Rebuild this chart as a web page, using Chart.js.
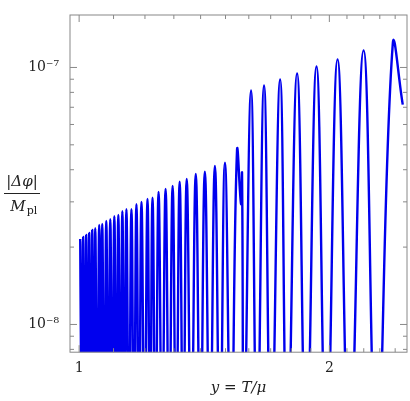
<!DOCTYPE html>
<html>
<head>
<meta charset="utf-8">
<script src="https://cdn.jsdelivr.net/npm/chart.js@4"></script>
<style>
  html, body { margin: 0; padding: 0; background: #fff; }
  #wrap { width: 410px; height: 401px; }
</style>
</head>
<body>
<div id="wrap"><canvas id="c"></canvas></div>
<script>
// peaks of |dphi| (x = T/mu, y = |dphi|/Mpl)
const peakX = [1.003, 1.0112, 1.0197, 1.0282, 1.0369, 1.0456, 1.0572, 1.0661, 1.0781, 1.0901,
  1.1024, 1.1147, 1.1272, 1.1399, 1.1559, 1.1720, 1.1885, 1.2085, 1.2254, 1.2461,
  1.2706, 1.2956, 1.3211, 1.3472, 1.3814, 1.4166, 1.4566, 1.4977, 1.5486];
const peakY = [2.15e-8, 2.19e-8, 2.23e-8, 2.27e-8, 2.33e-8, 2.37e-8, 2.44e-8, 2.46e-8, 2.53e-8, 2.57e-8,
  2.64e-8, 2.67e-8, 2.76e-8, 2.81e-8, 2.81e-8, 2.94e-8, 3.00e-8, 3.08e-8, 3.11e-8, 3.28e-8,
  3.37e-8, 3.46e-8, 3.59e-8, 3.68e-8, 3.85e-8, 3.93e-8, 4.14e-8, 4.26e-8, 4.74e-8];
// zero crossings between the early peaks
const troughX = [1.0071, 1.0155, 1.0240, 1.0326, 1.0413, 1.0514, 1.0617, 1.0721, 1.0841, 1.0963,
  1.1086, 1.1210, 1.1336, 1.1479, 1.1640, 1.1803, 1.1985, 1.2170, 1.2358, 1.2584,
  1.2831, 1.3084, 1.3342, 1.3643, 1.3990, 1.4366, 1.4772, 1.5232];
// glitch near y ~ 1.57
const glitchX = [1.5660, 1.5703];
const glitchY = [2.94e-8, 3.85e-8];
// after the jump
const latePeakX = [1.610, 1.669, 1.745, 1.829, 1.930, 2.046, 2.199, 2.384];
const latePeakY = [8.13e-8, 8.51e-8, 8.98e-8, 9.47e-8, 1.009e-7, 1.075e-7, 1.165e-7, 1.230e-7];
const lateTroughX = [1.579, 1.637, 1.702, 1.780, 1.876, 1.984, 2.115, 2.280];
const endPoint = [2.451, 7.17e-8];
const DIP = 3e-9; // value at the zeros (below the visible range)

const pts = [];
for (let i = 0; i < peakX.length; i++) {
  pts.push({ x: peakX[i], y: peakY[i] });
  if (i < troughX.length) pts.push({ x: troughX[i], y: DIP });
}
for (let i = 0; i < glitchX.length; i++) pts.push({ x: glitchX[i], y: glitchY[i] });
for (let i = 0; i < latePeakX.length; i++) {
  pts.push({ x: lateTroughX[i], y: DIP });
  pts.push({ x: latePeakX[i], y: latePeakY[i] });
}
pts.push({ x: endPoint[0], y: endPoint[1] });

const xTicks = [1, 1.1, 1.2, 1.3, 1.4, 1.5, 1.6, 1.7, 1.8, 1.9, 2, 2.1, 2.2, 2.3, 2.4];
const yTicks = [8e-9, 9e-9, 1e-8, 2e-8, 3e-8, 4e-8, 5e-8, 6e-8, 7e-8, 8e-8, 9e-8, 1e-7];
const yLabels = { "1e-8": "10\u207B\u2078", "1e-7": "10\u207B\u2077" };

const serif = "'DejaVu Serif', 'Liberation Serif', serif";

const frame = {
  id: "frame",
  afterDraw(chart) {
    const { ctx, chartArea: a, scales } = chart;
    ctx.save();
    ctx.strokeStyle = "#888";
    ctx.lineWidth = 1;
    ctx.strokeRect(a.left, a.top, a.right - a.left, a.bottom - a.top);
    ctx.beginPath();
    xTicks.forEach(v => {
      const p = scales.x.getPixelForValue(v);
      const len = (v === 1 || v === 2) ? 7 : 4;
      ctx.moveTo(p, a.bottom); ctx.lineTo(p, a.bottom - len);
      ctx.moveTo(p, a.top); ctx.lineTo(p, a.top + len);
    });
    yTicks.forEach(v => {
      const p = scales.y.getPixelForValue(v);
      const len = (v === 1e-8 || v === 1e-7) ? 7 : 4;
      ctx.moveTo(a.left, p); ctx.lineTo(a.left + len, p);
      ctx.moveTo(a.right, p); ctx.lineTo(a.right - len, p);
    });
    ctx.stroke();
    // y-axis title as fraction
    ctx.fillStyle = "#222";
    ctx.font = "italic 15px " + serif;
    ctx.textAlign = "center";
    ctx.fillText("|\u0394\u03C6|", 22, 186);
    ctx.fillRect(4, 193, 36, 1);
    ctx.fillText("M", 18, 211);
    ctx.font = "11px " + serif;
    ctx.fillText("pl", 32, 214);
    ctx.restore();
  }
};

new Chart(document.getElementById("c"), {
  type: "line",
  data: {
    datasets: [{
      data: pts,
      borderColor: "#0000ee",
      borderWidth: 2.4,
      pointRadius: 0,
      tension: 0.45,
      fill: false
    }]
  },
  options: {
    responsive: true,
    maintainAspectRatio: false,
    animation: false,
    layout: { padding: { top: 15, right: 3, bottom: 2 } },
    plugins: { legend: { display: false }, tooltip: { enabled: false } },
    scales: {
      x: {
        type: "logarithmic",
        min: 0.975, max: 2.48,
        afterBuildTicks: s => { s.ticks = xTicks.map(v => ({ value: v })); },
        grid: { display: false },
        border: { display: false },
        ticks: {
          autoSkip: false, maxRotation: 0, color: "#222", padding: 0,
          font: { family: serif, size: 14 },
          callback: v => (v === 1 || v === 2) ? String(v) : ""
        },
        title: {
          display: true, text: "y = T/\u03BC", color: "#222", padding: 2,
          font: { family: serif, size: 15, style: "italic" }
        }
      },
      y: {
        type: "logarithmic",
        min: 7.8e-9, max: 1.6e-7,
        afterBuildTicks: s => { s.ticks = yTicks.map(v => ({ value: v })); },
        afterFit: s => { s.width = 70; },
        grid: { display: false },
        border: { display: false },
        ticks: {
          autoSkip: false, color: "#222",
          font: { family: serif, size: 14 },
          callback: v => yLabels[Number(v).toExponential(0).replace("e-0", "e-")] ||
            yLabels[String(Number(v))] || ""
        }
      }
    }
  },
  plugins: [frame]
});
</script>
</body>
</html>
